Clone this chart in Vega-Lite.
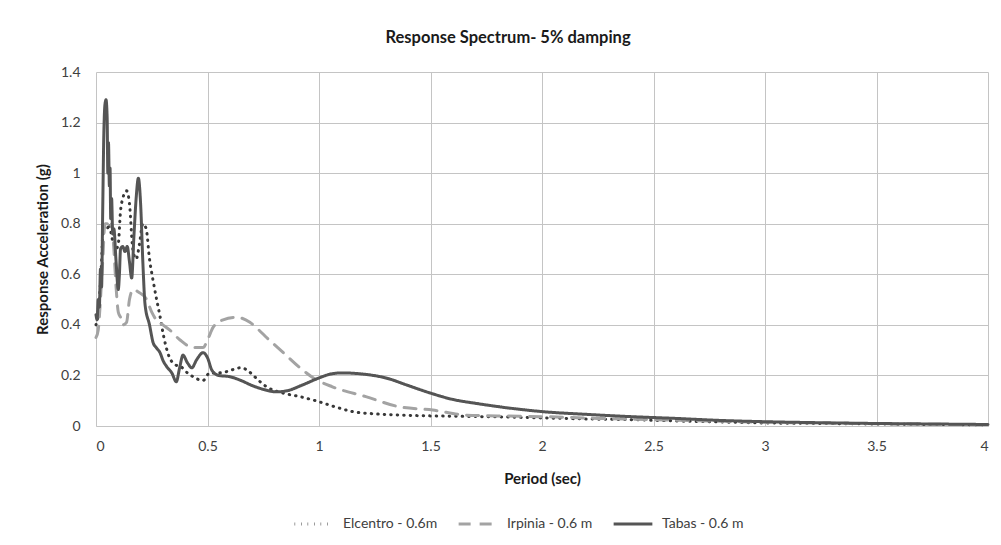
{
  "$schema": "https://vega.github.io/schema/vega-lite/v6.json",
  "autosize": {"type": "none"},
  "padding": {"left": 96, "top": 72, "right": 13, "bottom": 119},
  "width": 892,
  "height": 354,
  "background": "white",
  "title": {"text": "Response Spectrum- 5% damping", "font": "Lato", "fontSize": 16.5, "fontWeight": "bold", "color": "#1a1a1a", "dx": -34, "offset": 19},
  "config": {
    "view": {"stroke": null},
    "axis": {"labelFont": "Lato", "labelFontSize": 14, "labelColor": "#404040", "titleFont": "Lato", "titleFontSize": 15, "titleFontWeight": "bold", "titleColor": "#1a1a1a", "gridColor": "#c4c4c4", "gridWidth": 1, "ticks": false, "domainColor": "#c4c4c4"},
    "legend": {"labelFont": "Lato", "labelFontSize": 14, "labelColor": "#404040"}
  },
  "data": {"values": [
    {"s":"Elcentro - 0.6m","t":0,"a":0.40},{"s":"Elcentro - 0.6m","t":0.01,"a":0.45},{"s":"Elcentro - 0.6m","t":0.018,"a":0.54},{"s":"Elcentro - 0.6m","t":0.025,"a":0.65},{"s":"Elcentro - 0.6m","t":0.03,"a":0.75},{"s":"Elcentro - 0.6m","t":0.04,"a":0.79},{"s":"Elcentro - 0.6m","t":0.05,"a":0.78},{"s":"Elcentro - 0.6m","t":0.06,"a":0.80},{"s":"Elcentro - 0.6m","t":0.07,"a":0.75},{"s":"Elcentro - 0.6m","t":0.08,"a":0.72},{"s":"Elcentro - 0.6m","t":0.09,"a":0.70},{"s":"Elcentro - 0.6m","t":0.1,"a":0.72},{"s":"Elcentro - 0.6m","t":0.11,"a":0.85},{"s":"Elcentro - 0.6m","t":0.12,"a":0.90},{"s":"Elcentro - 0.6m","t":0.137,"a":0.93},{"s":"Elcentro - 0.6m","t":0.15,"a":0.88},{"s":"Elcentro - 0.6m","t":0.165,"a":0.70},{"s":"Elcentro - 0.6m","t":0.18,"a":0.66},{"s":"Elcentro - 0.6m","t":0.195,"a":0.72},{"s":"Elcentro - 0.6m","t":0.21,"a":0.80},{"s":"Elcentro - 0.6m","t":0.225,"a":0.78},{"s":"Elcentro - 0.6m","t":0.24,"a":0.66},{"s":"Elcentro - 0.6m","t":0.255,"a":0.58},{"s":"Elcentro - 0.6m","t":0.272,"a":0.50},{"s":"Elcentro - 0.6m","t":0.29,"a":0.42},{"s":"Elcentro - 0.6m","t":0.30,"a":0.37},{"s":"Elcentro - 0.6m","t":0.33,"a":0.27},{"s":"Elcentro - 0.6m","t":0.36,"a":0.24},{"s":"Elcentro - 0.6m","t":0.38,"a":0.235},{"s":"Elcentro - 0.6m","t":0.41,"a":0.21},{"s":"Elcentro - 0.6m","t":0.435,"a":0.195},{"s":"Elcentro - 0.6m","t":0.48,"a":0.18},{"s":"Elcentro - 0.6m","t":0.51,"a":0.21},{"s":"Elcentro - 0.6m","t":0.55,"a":0.21},{"s":"Elcentro - 0.6m","t":0.586,"a":0.215},{"s":"Elcentro - 0.6m","t":0.646,"a":0.23},{"s":"Elcentro - 0.6m","t":0.68,"a":0.22},{"s":"Elcentro - 0.6m","t":0.705,"a":0.20},{"s":"Elcentro - 0.6m","t":0.765,"a":0.155},{"s":"Elcentro - 0.6m","t":0.84,"a":0.13},{"s":"Elcentro - 0.6m","t":0.915,"a":0.116},{"s":"Elcentro - 0.6m","t":1.0,"a":0.096},{"s":"Elcentro - 0.6m","t":1.075,"a":0.075},{"s":"Elcentro - 0.6m","t":1.15,"a":0.057},{"s":"Elcentro - 0.6m","t":1.25,"a":0.048},{"s":"Elcentro - 0.6m","t":1.36,"a":0.043},{"s":"Elcentro - 0.6m","t":1.5,"a":0.040},{"s":"Elcentro - 0.6m","t":1.65,"a":0.038},{"s":"Elcentro - 0.6m","t":1.81,"a":0.036},{"s":"Elcentro - 0.6m","t":2.0,"a":0.032},{"s":"Elcentro - 0.6m","t":2.2,"a":0.028},{"s":"Elcentro - 0.6m","t":2.4,"a":0.025},{"s":"Elcentro - 0.6m","t":2.6,"a":0.020},{"s":"Elcentro - 0.6m","t":2.8,"a":0.016},{"s":"Elcentro - 0.6m","t":3.0,"a":0.012},{"s":"Elcentro - 0.6m","t":3.25,"a":0.010},{"s":"Elcentro - 0.6m","t":3.5,"a":0.008},{"s":"Elcentro - 0.6m","t":3.75,"a":0.006},{"s":"Elcentro - 0.6m","t":4.0,"a":0.005},
    {"s":"Irpinia - 0.6 m","t":0,"a":0.35},{"s":"Irpinia - 0.6 m","t":0.01,"a":0.38},{"s":"Irpinia - 0.6 m","t":0.02,"a":0.50},{"s":"Irpinia - 0.6 m","t":0.03,"a":0.65},{"s":"Irpinia - 0.6 m","t":0.04,"a":0.80},{"s":"Irpinia - 0.6 m","t":0.05,"a":0.80},{"s":"Irpinia - 0.6 m","t":0.06,"a":0.78},{"s":"Irpinia - 0.6 m","t":0.07,"a":0.80},{"s":"Irpinia - 0.6 m","t":0.08,"a":0.70},{"s":"Irpinia - 0.6 m","t":0.09,"a":0.55},{"s":"Irpinia - 0.6 m","t":0.1,"a":0.45},{"s":"Irpinia - 0.6 m","t":0.11,"a":0.43},{"s":"Irpinia - 0.6 m","t":0.12,"a":0.40},{"s":"Irpinia - 0.6 m","t":0.137,"a":0.41},{"s":"Irpinia - 0.6 m","t":0.15,"a":0.50},{"s":"Irpinia - 0.6 m","t":0.167,"a":0.54},{"s":"Irpinia - 0.6 m","t":0.19,"a":0.53},{"s":"Irpinia - 0.6 m","t":0.227,"a":0.50},{"s":"Irpinia - 0.6 m","t":0.25,"a":0.45},{"s":"Irpinia - 0.6 m","t":0.27,"a":0.42},{"s":"Irpinia - 0.6 m","t":0.30,"a":0.40},{"s":"Irpinia - 0.6 m","t":0.33,"a":0.38},{"s":"Irpinia - 0.6 m","t":0.377,"a":0.34},{"s":"Irpinia - 0.6 m","t":0.436,"a":0.31},{"s":"Irpinia - 0.6 m","t":0.48,"a":0.31},{"s":"Irpinia - 0.6 m","t":0.50,"a":0.34},{"s":"Irpinia - 0.6 m","t":0.525,"a":0.39},{"s":"Irpinia - 0.6 m","t":0.57,"a":0.42},{"s":"Irpinia - 0.6 m","t":0.63,"a":0.43},{"s":"Irpinia - 0.6 m","t":0.69,"a":0.41},{"s":"Irpinia - 0.6 m","t":0.73,"a":0.38},{"s":"Irpinia - 0.6 m","t":0.765,"a":0.35},{"s":"Irpinia - 0.6 m","t":0.84,"a":0.29},{"s":"Irpinia - 0.6 m","t":0.915,"a":0.23},{"s":"Irpinia - 0.6 m","t":0.975,"a":0.19},{"s":"Irpinia - 0.6 m","t":1.06,"a":0.155},{"s":"Irpinia - 0.6 m","t":1.21,"a":0.116},{"s":"Irpinia - 0.6 m","t":1.36,"a":0.076},{"s":"Irpinia - 0.6 m","t":1.51,"a":0.063},{"s":"Irpinia - 0.6 m","t":1.66,"a":0.043},{"s":"Irpinia - 0.6 m","t":1.8,"a":0.040},{"s":"Irpinia - 0.6 m","t":2.0,"a":0.037},{"s":"Irpinia - 0.6 m","t":2.25,"a":0.030},{"s":"Irpinia - 0.6 m","t":2.5,"a":0.025},{"s":"Irpinia - 0.6 m","t":2.75,"a":0.020},{"s":"Irpinia - 0.6 m","t":3.0,"a":0.015},{"s":"Irpinia - 0.6 m","t":3.5,"a":0.009},{"s":"Irpinia - 0.6 m","t":4.0,"a":0.005},
    {"s":"Tabas - 0.6 m","t":0,"a":0.44},{"s":"Tabas - 0.6 m","t":0.005,"a":0.42},{"s":"Tabas - 0.6 m","t":0.01,"a":0.50},{"s":"Tabas - 0.6 m","t":0.015,"a":0.47},{"s":"Tabas - 0.6 m","t":0.02,"a":0.62},{"s":"Tabas - 0.6 m","t":0.025,"a":0.55},{"s":"Tabas - 0.6 m","t":0.03,"a":0.85},{"s":"Tabas - 0.6 m","t":0.035,"a":1.15},{"s":"Tabas - 0.6 m","t":0.04,"a":1.27},{"s":"Tabas - 0.6 m","t":0.045,"a":1.29},{"s":"Tabas - 0.6 m","t":0.05,"a":1.22},{"s":"Tabas - 0.6 m","t":0.053,"a":1.00},{"s":"Tabas - 0.6 m","t":0.056,"a":1.12},{"s":"Tabas - 0.6 m","t":0.06,"a":0.95},{"s":"Tabas - 0.6 m","t":0.063,"a":1.02},{"s":"Tabas - 0.6 m","t":0.066,"a":0.82},{"s":"Tabas - 0.6 m","t":0.07,"a":0.90},{"s":"Tabas - 0.6 m","t":0.075,"a":0.76},{"s":"Tabas - 0.6 m","t":0.08,"a":0.78},{"s":"Tabas - 0.6 m","t":0.09,"a":0.65},{"s":"Tabas - 0.6 m","t":0.1,"a":0.54},{"s":"Tabas - 0.6 m","t":0.105,"a":0.60},{"s":"Tabas - 0.6 m","t":0.11,"a":0.70},{"s":"Tabas - 0.6 m","t":0.12,"a":0.71},{"s":"Tabas - 0.6 m","t":0.13,"a":0.69},{"s":"Tabas - 0.6 m","t":0.14,"a":0.71},{"s":"Tabas - 0.6 m","t":0.15,"a":0.65},{"s":"Tabas - 0.6 m","t":0.16,"a":0.585},{"s":"Tabas - 0.6 m","t":0.17,"a":0.75},{"s":"Tabas - 0.6 m","t":0.18,"a":0.90},{"s":"Tabas - 0.6 m","t":0.19,"a":0.98},{"s":"Tabas - 0.6 m","t":0.2,"a":0.88},{"s":"Tabas - 0.6 m","t":0.21,"a":0.65},{"s":"Tabas - 0.6 m","t":0.22,"a":0.48},{"s":"Tabas - 0.6 m","t":0.24,"a":0.40},{"s":"Tabas - 0.6 m","t":0.256,"a":0.33},{"s":"Tabas - 0.6 m","t":0.27,"a":0.31},{"s":"Tabas - 0.6 m","t":0.287,"a":0.29},{"s":"Tabas - 0.6 m","t":0.3,"a":0.26},{"s":"Tabas - 0.6 m","t":0.317,"a":0.235},{"s":"Tabas - 0.6 m","t":0.34,"a":0.21},{"s":"Tabas - 0.6 m","t":0.36,"a":0.175},{"s":"Tabas - 0.6 m","t":0.375,"a":0.23},{"s":"Tabas - 0.6 m","t":0.39,"a":0.28},{"s":"Tabas - 0.6 m","t":0.41,"a":0.25},{"s":"Tabas - 0.6 m","t":0.43,"a":0.23},{"s":"Tabas - 0.6 m","t":0.45,"a":0.26},{"s":"Tabas - 0.6 m","t":0.48,"a":0.29},{"s":"Tabas - 0.6 m","t":0.5,"a":0.27},{"s":"Tabas - 0.6 m","t":0.52,"a":0.22},{"s":"Tabas - 0.6 m","t":0.55,"a":0.20},{"s":"Tabas - 0.6 m","t":0.6,"a":0.195},{"s":"Tabas - 0.6 m","t":0.65,"a":0.18},{"s":"Tabas - 0.6 m","t":0.7,"a":0.16},{"s":"Tabas - 0.6 m","t":0.75,"a":0.145},{"s":"Tabas - 0.6 m","t":0.81,"a":0.135},{"s":"Tabas - 0.6 m","t":0.86,"a":0.14},{"s":"Tabas - 0.6 m","t":0.92,"a":0.16},{"s":"Tabas - 0.6 m","t":1.0,"a":0.19},{"s":"Tabas - 0.6 m","t":1.05,"a":0.205},{"s":"Tabas - 0.6 m","t":1.1,"a":0.21},{"s":"Tabas - 0.6 m","t":1.2,"a":0.205},{"s":"Tabas - 0.6 m","t":1.3,"a":0.19},{"s":"Tabas - 0.6 m","t":1.4,"a":0.16},{"s":"Tabas - 0.6 m","t":1.5,"a":0.13},{"s":"Tabas - 0.6 m","t":1.6,"a":0.105},{"s":"Tabas - 0.6 m","t":1.7,"a":0.09},{"s":"Tabas - 0.6 m","t":1.8,"a":0.077},{"s":"Tabas - 0.6 m","t":1.9,"a":0.066},{"s":"Tabas - 0.6 m","t":2.0,"a":0.057},{"s":"Tabas - 0.6 m","t":2.2,"a":0.046},{"s":"Tabas - 0.6 m","t":2.4,"a":0.037},{"s":"Tabas - 0.6 m","t":2.6,"a":0.030},{"s":"Tabas - 0.6 m","t":2.8,"a":0.022},{"s":"Tabas - 0.6 m","t":3.0,"a":0.017},{"s":"Tabas - 0.6 m","t":3.25,"a":0.013},{"s":"Tabas - 0.6 m","t":3.5,"a":0.010},{"s":"Tabas - 0.6 m","t":3.75,"a":0.008},{"s":"Tabas - 0.6 m","t":4.0,"a":0.006}
  ]},
  "mark": {"type": "line", "strokeWidth": 3, "strokeCap": "round", "interpolate": "monotone"},
  "encoding": {
    "x": {"field": "t", "type": "quantitative", "title": "Period (sec)", "scale": {"domain": [0, 4], "nice": false, "zero": true}, "axis": {"values": [0, 0.5, 1, 1.5, 2, 2.5, 3, 3.5, 4], "format": "~g", "labelPadding": 13, "titlePadding": 18, "domain": true}},
    "y": {"field": "a", "type": "quantitative", "title": "Response Acceleration (g)", "scale": {"domain": [0, 1.4], "nice": false}, "axis": {"values": [0, 0.2, 0.4, 0.6, 0.8, 1, 1.2, 1.4], "format": "~g", "labelPadding": 16, "titlePadding": 10, "domain": false}},
    "color": {"field": "s", "type": "nominal", "title": null, "scale": {"domain": ["Elcentro - 0.6m", "Irpinia - 0.6 m", "Tabas - 0.6 m"], "range": ["#383838", "#a3a3a3", "#555555"]}, "legend": {"orient": "none", "legendX": 197, "legendY": 431, "direction": "horizontal", "symbolType": "stroke", "symbolSize": 1500, "symbolStrokeWidth": 3, "columnPadding": 14, "labelOffset": 8, "padding": 0}},
    "strokeDash": {"field": "s", "type": "nominal", "scale": {"domain": ["Elcentro - 0.6m", "Irpinia - 0.6 m", "Tabas - 0.6 m"], "range": [[0.5, 6], [12, 9], [1, 0]]}},
    "order": {"field": "t", "type": "quantitative"}
  }
}
